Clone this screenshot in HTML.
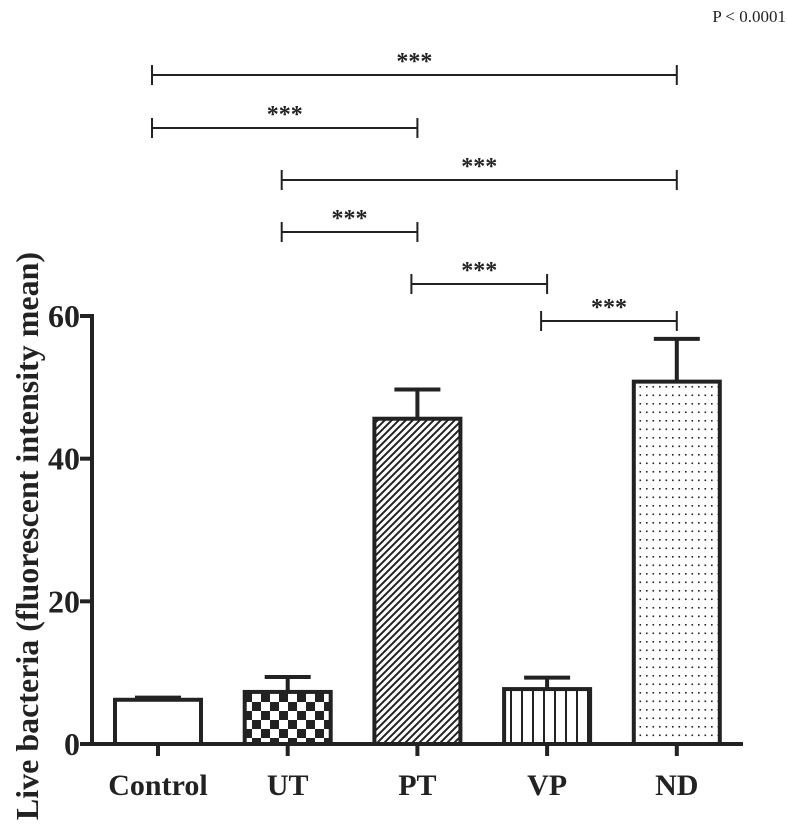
<!DOCTYPE html>
<html><head><meta charset="utf-8"><style>
html,body{margin:0;padding:0;background:#fff;}
svg{display:block;font-family:"Liberation Serif",serif;}
</style></head><body>
<svg id="chart" width="787" height="830" viewBox="0 0 787 830">
<defs>
<pattern id="checker" width="18" height="18" patternUnits="userSpaceOnUse" x="0" y="0">
<rect width="18" height="18" fill="#fff"/><rect width="9" height="9" fill="#222"/><rect x="9" y="9" width="9" height="9" fill="#222"/>
</pattern>
<pattern id="diag" width="7" height="7" patternUnits="userSpaceOnUse">
<rect width="7" height="7" fill="#fff"/><path d="M-1,8 L8,-1 M-4,4 L4,-4 M3,11 L11,3" stroke="#222" stroke-width="2"/>
</pattern>
<pattern id="vert" width="11" height="10" patternUnits="userSpaceOnUse">
<rect width="11" height="10" fill="#fff"/><line x1="5" y1="0" x2="5" y2="10" stroke="#222" stroke-width="2"/>
</pattern>
<pattern id="dots" width="6.5" height="8.5" patternUnits="userSpaceOnUse">
<rect width="6.5" height="8.5" fill="#fff"/><rect x="2.5" y="3.5" width="1.6" height="1.6" fill="#222"/>
</pattern>
</defs>
<text x="786" y="22" text-anchor="end" font-size="17" fill="#222">P &lt; 0.0001</text>
<text transform="translate(38,536) rotate(-90)" text-anchor="middle" font-size="32" font-weight="bold" fill="#222">Live bacteria (fluorescent intensity mean)</text>
<g id="plot"></g>
</svg>
<script>
const categories = ["Control","UT","PT","VP","ND"];
const means = [6.2, 7.3, 45.6, 7.7, 50.8];
const errors = [0.3, 2.1, 4.1, 1.6, 6.0];
const yTicks = [0, 20, 40, 60];
const brackets = [[0,4],[0,2],[1,4],[1,2],[2,3],[3,4]];
const bracketLabels = ["***","***","***","***","***","***"];
const fills = ["#fff","url(#checker)","url(#diag)","url(#vert)","url(#dots)"];

const NS = "http://www.w3.org/2000/svg";
const g = document.getElementById("plot");
const y0 = 744, yPerUnit = (744 - 316) / 60;
const yScale = v => y0 - v * yPerUnit;
const xScale = i => 158 + i * 129.7;
const axisX = 92, halfW = 43, capHalf = 23;
function el(tag, attrs, parent) {
  const e = document.createElementNS(NS, tag);
  for (const k in attrs) e.setAttribute(k, attrs[k]);
  (parent || g).appendChild(e);
  return e;
}
categories.forEach((c, i) => {
  const cx = xScale(i), top = yScale(means[i]);
  const eb = el("line", {x1: cx, x2: cx, y1: yScale(means[i] + errors[i]), y2: top, stroke: "#222", "stroke-width": 4});
  
  
  const cap = el("line", {x1: cx - capHalf, x2: cx + capHalf, y1: yScale(means[i] + errors[i]), y2: yScale(means[i] + errors[i]), stroke: "#222", "stroke-width": 4});
  
  
  const r = el("rect", {x: cx - halfW, y: top, width: 2 * halfW, height: y0 - top, fill: fills[i], stroke: "#222", "stroke-width": 4});
  
  
  const tk = el("line", {x1: cx, x2: cx, y1: y0, y2: y0 + 12, stroke: "#222", "stroke-width": 4});
  
  
  const t = el("text", {x: cx, y: 795, "text-anchor": "middle", "font-size": 30, "font-weight": "bold", fill: "#222"});
  t.textContent = c;
  
  
});
const ya = el("line", {x1: axisX, x2: axisX, y1: yScale(60) - 2, y2: y0 + 2, stroke: "#222", "stroke-width": 4});


const xa = el("line", {x1: axisX - 2, x2: 743, y1: y0, y2: y0, stroke: "#222", "stroke-width": 4});


yTicks.forEach(v => {
  const tk = el("line", {x1: axisX - 12, x2: axisX, y1: yScale(v), y2: yScale(v), stroke: "#222", "stroke-width": 4});
  
  
  const t = el("text", {x: 80, y: yScale(v) + 11, "text-anchor": "end", "font-size": 32, "font-weight": "bold", fill: "#222"});
  t.textContent = v;
  
  
});
const bracketY = [75, 128, 180, 232, 284, 321];
brackets.forEach((b, k) => {
  const x1 = xScale(b[0]) - 6, x2 = xScale(b[1]), yy = bracketY[k];
  const p = el("path", {d: `M${x1},${yy+10} V${yy} H${x2} V${yy+10} M${x1},${yy-10} V${yy} M${x2},${yy-10} V${yy}`, fill: "none", stroke: "#222", "stroke-width": 2});
  
  
  const t = el("text", {x: (x1 + x2) / 2, y: yy - 6, "text-anchor": "middle", "font-size": 24, "font-weight": "bold", fill: "#222"});
  t.textContent = bracketLabels[k];
  
  
});
</script>
</body></html>
